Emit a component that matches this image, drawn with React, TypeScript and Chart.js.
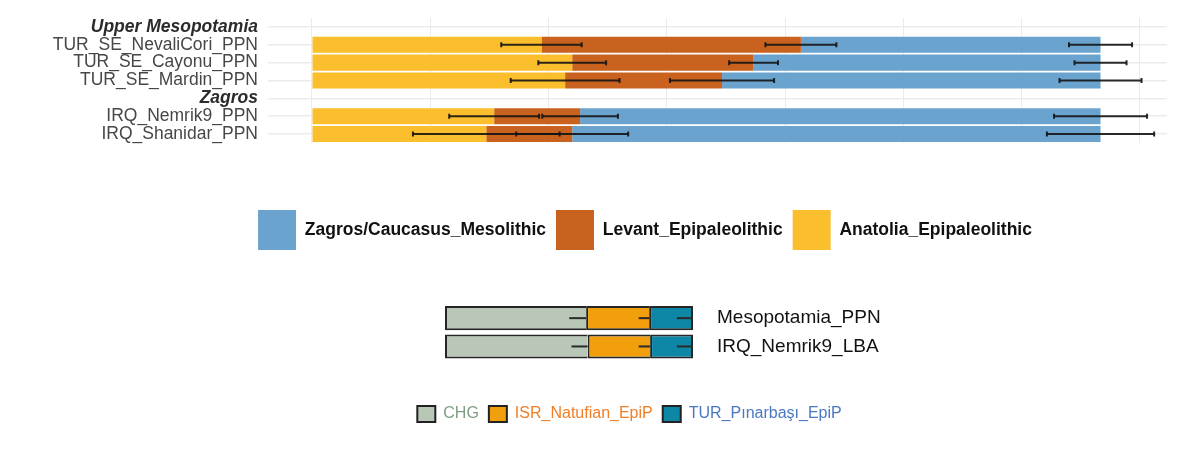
import React, { useEffect, useRef } from 'react';
import { Chart, registerables } from 'chart.js';

Chart.register(...registerables);

const FONT = '"Liberation Sans", Arial, Helvetica, sans-serif';

// ---------- Panel 1 data ----------
const categories = [
  'Upper Mesopotamia',
  'TUR_SE_NevaliCori_PPN',
  'TUR_SE_Cayonu_PPN',
  'TUR_SE_Mardin_PPN',
  'Zagros',
  'IRQ_Nemrik9_PPN',
  'IRQ_Shanidar_PPN',
];
const groupHeaders = ['Upper Mesopotamia', 'Zagros'];

const anatolia = [null, 0.291, 0.330, 0.321, null, 0.231, 0.221];
const levant = [null, 0.329, 0.230, 0.199, null, 0.109, 0.109];
const zagros = [null, 0.380, 0.440, 0.480, null, 0.660, 0.670];

const anatoliaErr = [null, 0.051, 0.043, 0.069, null, 0.057, 0.093];
const levantErr = [null, 0.045, 0.031, 0.066, null, 0.048, 0.071];
const zagrosErr = [null, 0.040, 0.033, 0.052, null, 0.059, 0.068];

const gridTicks = [0, 0.15, 0.3, 0.45, 0.6, 0.75, 0.9, 1.05];

// ---------- Panel 2 data ----------
const panel2Categories = ['Mesopotamia_PPN', 'IRQ_Nemrik9_LBA'];
const chg = [0.569, 0.575];
const isrNatufian = [0.254, 0.252];
const turPinarbasi = [0.177, 0.173];
const chgErr = [0.068, 0.065];
const isrErr = [0.042, 0.046];
const turErr = [0.065, 0.065];

type ErrOpts = { color: string; width: number; cap: number; lowerOnly: boolean };

function makeErrorPlugin(id: string, errs: (number | null)[][], opts: ErrOpts) {
  return {
    id,
    afterDatasetsDraw(chart: any) {
      const ctx = chart.ctx;
      const xs = chart.scales.x;
      ctx.save();
      ctx.strokeStyle = opts.color;
      ctx.lineWidth = opts.width;
      chart.data.datasets.forEach((ds: any, d: number) => {
        const meta = chart.getDatasetMeta(d);
        meta.data.forEach((bar: any, i: number) => {
          const e = errs[d][i];
          if (e == null || ds.data[i] == null) return;
          let cum = 0;
          for (let k = 0; k <= d; k++) cum += chart.data.datasets[k].data[i] || 0;
          const x0 = xs.getPixelForValue(cum - e);
          const x1 = opts.lowerOnly ? xs.getPixelForValue(cum) : xs.getPixelForValue(cum + e);
          const y = bar.y;
          ctx.beginPath();
          ctx.moveTo(x0, y);
          ctx.lineTo(x1, y);
          ctx.stroke();
          if (opts.cap > 0) {
            ctx.beginPath();
            ctx.moveTo(x0, y - opts.cap / 2);
            ctx.lineTo(x0, y + opts.cap / 2);
            ctx.moveTo(x1, y - opts.cap / 2);
            ctx.lineTo(x1, y + opts.cap / 2);
            ctx.stroke();
          }
        });
      });
      ctx.restore();
    },
  };
}

const spacerAxis = (position: string, width: number) => ({
  type: 'category',
  position,
  display: true,
  ticks: { display: false },
  grid: { display: false, drawTicks: false },
  border: { display: false },
  afterFit: (s: any) => {
    s.width = width;
    s.paddingTop = 0;
    s.paddingBottom = 0;
  },
});

export default function App() {
  const ref1 = useRef<HTMLCanvasElement | null>(null);
  const ref2 = useRef<HTMLCanvasElement | null>(null);

  useEffect(() => {
    Chart.defaults.font.family = FONT;
    const c1 = new Chart(ref1.current as HTMLCanvasElement, {
      type: 'bar',
      data: {
        labels: categories,
        datasets: [
          { label: 'Anatolia_Epipaleolithic', data: anatolia, backgroundColor: '#FBBE2C', yAxisID: 'y', xAxisID: 'x' },
          { label: 'Levant_Epipaleolithic', data: levant, backgroundColor: '#C9621F', yAxisID: 'y', xAxisID: 'x' },
          { label: 'Zagros/Caucasus_Mesolithic', data: zagros, backgroundColor: '#6BA3CF', yAxisID: 'y', xAxisID: 'x' },
        ],
      },
      options: {
        indexAxis: 'y',
        responsive: false,
        animation: false,
        layout: { padding: { top: 18, left: 0, right: 0, bottom: 10 } },
        datasets: { bar: { barPercentage: 0.9, categoryPercentage: 1, borderWidth: 0 } },
        scales: {
          x: {
            stacked: true,
            min: -0.0558,
            max: 1.0843,
            ticks: { display: false, stepSize: 0.15 },
            grid: { color: '#ebebeb', lineWidth: 1, drawTicks: false },
            border: { display: false },
            afterBuildTicks: (s: any) => {
              s.ticks = gridTicks.map((v) => ({ value: v }));
            },
            afterFit: (s: any) => {
              s.height = 57;
              s.paddingLeft = 0;
              s.paddingRight = 0;
            },
          },
          y: {
            stacked: true,
            grid: { offset: false, color: '#ebebeb', lineWidth: 1.5, drawTicks: false },
            border: { display: false },
            ticks: {
              padding: 10,
              autoSkip: false,
              font: (c: any) => {
                const lbl = c.tick ? c.tick.label : '';
                return groupHeaders.includes(lbl)
                  ? { size: 17.5, weight: 'bold', style: 'italic', family: FONT }
                  : { size: 17.5, family: FONT };
              },
              color: (c: any) => {
                const lbl = c.tick ? c.tick.label : '';
                return groupHeaders.includes(lbl) ? '#2b2b2b' : '#474747';
              },
            },
            afterFit: (s: any) => {
              s.width = 268;
              s.paddingTop = 0;
              s.paddingBottom = 0;
            },
          },
          yr: spacerAxis('right', 123),
        },
        plugins: {
          tooltip: { enabled: false },
          legend: {
            position: 'bottom',
            labels: {
              boxWidth: 38,
              boxHeight: 40,
              padding: 10,
              color: '#111111',
              font: { size: 17.5, weight: 'bold', family: FONT },
              generateLabels: (chart: any) =>
                chart.data.datasets
                  .map((ds: any, i: number) => ({
                    text: ds.label,
                    fillStyle: ds.backgroundColor,
                    strokeStyle: ds.backgroundColor,
                    lineWidth: 0,
                    hidden: false,
                    datasetIndex: i,
                    fontColor: '#111111',
                  }))
                  .reverse(),
            },
          },
        },
      } as any,
      plugins: [
        makeErrorPlugin('errA', [anatoliaErr, levantErr, zagrosErr], {
          color: 'rgba(20,20,20,0.9)',
          width: 2,
          cap: 5,
          lowerOnly: false,
        }),
      ],
    });

    const legendColors = ['#7E9E82', '#F07F27', '#4A78C3'];
    const c2 = new Chart(ref2.current as HTMLCanvasElement, {
      type: 'bar',
      data: {
        labels: panel2Categories,
        datasets: [
          {
            label: 'CHG',
            data: chg,
            backgroundColor: '#B9C8B6',
            borderColor: '#262626',
            borderWidth: { top: 2, bottom: 2, left: 2, right: 0 },
            borderSkipped: false,
            yAxisID: 'y',
            xAxisID: 'x',
          },
          {
            label: 'ISR_Natufian_EpiP',
            data: isrNatufian,
            backgroundColor: '#F29F0E',
            borderColor: '#262626',
            borderWidth: { top: 2, bottom: 2, left: 2, right: 0 },
            borderSkipped: false,
            yAxisID: 'y',
            xAxisID: 'x',
          },
          {
            label: 'TUR_Pınarbaşı_EpiP',
            data: turPinarbasi,
            backgroundColor: '#0E86A6',
            borderColor: '#262626',
            borderWidth: { top: 2, bottom: 2, left: 2, right: 2 },
            borderSkipped: false,
            yAxisID: 'y',
            xAxisID: 'x',
          },
        ],
      },
      options: {
        indexAxis: 'y',
        responsive: false,
        animation: false,
        layout: { padding: { top: 14, left: 0, right: 0, bottom: 8 } },
        datasets: { bar: { barPercentage: 0.85, categoryPercentage: 1 } },
        scales: {
          x: {
            stacked: true,
            min: 0,
            max: 1,
            ticks: { display: false },
            grid: { display: false, drawTicks: false },
            border: { display: false },
            afterFit: (s: any) => {
              s.height = 35.4;
              s.paddingLeft = 0;
              s.paddingRight = 0;
            },
          },
          y: {
            stacked: true,
            position: 'right',
            grid: { display: false, drawTicks: false },
            border: { display: false },
            ticks: { padding: 24, autoSkip: false, color: '#111111', font: { size: 19, family: FONT } },
            afterFit: (s: any) => {
              s.width = 566;
              s.paddingTop = 0;
              s.paddingBottom = 0;
            },
          },
          yl: spacerAxis('left', 445),
        },
        plugins: {
          tooltip: { enabled: false },
          legend: {
            position: 'bottom',
            labels: {
              boxWidth: 18,
              boxHeight: 16,
              padding: 10,
              font: { size: 16, family: FONT },
              generateLabels: (chart: any) =>
                chart.data.datasets.map((ds: any, i: number) => ({
                  text: ds.label,
                  fillStyle: ds.backgroundColor,
                  strokeStyle: '#222222',
                  lineWidth: 2,
                  hidden: false,
                  datasetIndex: i,
                  fontColor: legendColors[i],
                })),
            },
          },
        },
      } as any,
      plugins: [
        makeErrorPlugin('errB', [chgErr, isrErr, turErr], {
          color: '#2a2a2a',
          width: 2,
          cap: 0,
          lowerOnly: true,
        }),
      ],
    });

    return () => {
      c1.destroy();
      c2.destroy();
    };
  }, []);

  return (
    <div
      style={{
        position: 'absolute',
        left: 0,
        top: 0,
        width: 1200,
        height: 459,
        overflow: 'hidden',
        background: '#ffffff',
      }}
    >
      <canvas ref={ref1} width={1290} height={270} style={{ position: 'absolute', left: 0, top: 0 }} />
      <canvas ref={ref2} width={1259} height={150} style={{ position: 'absolute', left: 0, top: 290 }} />
    </div>
  );
}
